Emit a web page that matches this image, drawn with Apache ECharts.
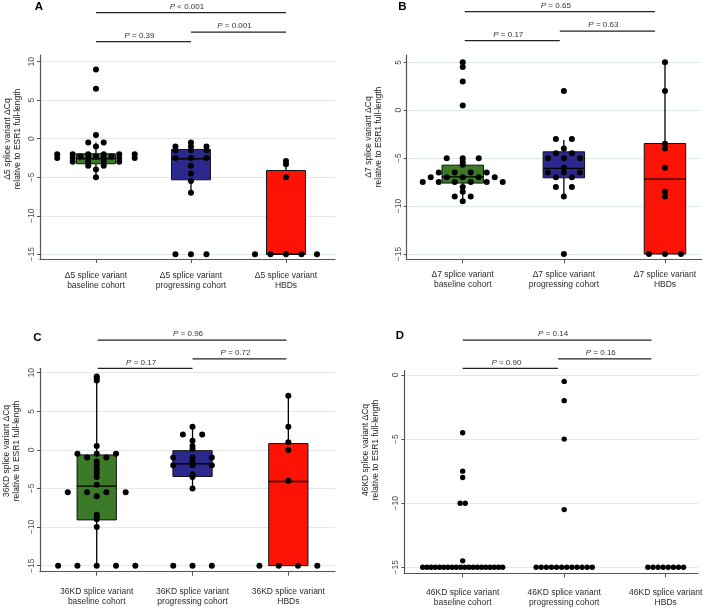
<!DOCTYPE html>
<html><head><meta charset="utf-8">
<script src="https://cdn.jsdelivr.net/npm/echarts@6/dist/echarts.min.js"></script>
<style>html,body{margin:0;padding:0;background:#fff}#c{width:709px;height:608px}</style>
</head><body><div id="c"></div>
<script>
// ---------- data ----------
const groupLabels = ['baseline cohort', 'progressing cohort', 'HBDs'];
const variants = ['Δ5', 'Δ7', '36KD', '46KD'];
const panelLetters = ['A', 'B', 'C', 'D'];

const yTicksA = [-15, -10, -5, 0, 5, 10];
const yTicksB = [-15, -10, -5, 0, 5];
const yTicksC = [-15, -10, -5, 0, 5, 10];
const yTicksD = [-15, -10, -5, 0];

const d5Baseline = [9, 6.5, 0.5, -0.5, -0.5, -1, -2, -2, -2, -2, -2, -2, -2.3, -2.3, -2.3, -2.5, -2.5, -2.5, -2.5, -2.5, -2.5, -3, -3, -3, -3, -3.5, -3.5, -4, -5];
const d5Progressing = [-0.5, -1, -1, -1, -1.5, -1.5, -1.5, -2.5, -2.5, -2.5, -3.5, -4.5, -5.5, -7, -15, -15, -15];
const d5HBD = [-2.9, -3.3, -5, -15, -15, -15, -15, -15];
const d5Box = [[-5, -3.25, -2.6, -1.95, -0.5], [-7, -5.33, -2.6, -1.39, -0.5], [-15, -15, -15, -4.12, -2.9]];
const d5Brackets = [[1, 3, 3], [2, 3, 1], [1, 2, 0]];
const d5P = ['< 0.001', '= 0.001', '= 0.39'];

const d7Baseline = [5, 4.5, 3, 0.5, -5, -5, -5, -5.4, -5.7, -6.5, -6.5, -6.5, -6.5, -7, -7, -7, -7, -7, -7.5, -7.5, -7.5, -7.5, -7.5, -7.5, -8, -8.5, -9, -9, -9.5];
const d7Progressing = [2, -3, -3, -4, -4.5, -4.5, -5, -5, -5, -6, -6.5, -6.5, -6.5, -7, -7, -8, -8, -9, -15];
const d7HBD = [5, 2, -3.5, -4, -6, -8.5, -9, -15, -15, -15];
const d7Box = [[-9.5, -7.6, -6.95, -5.73, -5], [-9, -7.05, -6.07, -4.34, -3.1], [-15, -15, -7.19, -3.47, 5]];
const d7Brackets = [[1.02, 2.9, 3], [1.96, 2.9, 1], [1.02, 1.96, 0]];
const d7P = ['= 0.65', '= 0.63', '= 0.17'];

const kd36Baseline = [9.5, 9.3, 9, 0.5, -0.5, -0.5, -0.5, -1, -1, -1.5, -2, -2.5, -3, -3.5, -4.5, -5.5, -5.5, -5.5, -5.5, -6, -8.4, -8.7, -9, -10, -15, -15, -15, -15, -15];
const kd36Progressing = [3, 2, 2, 1.2, 0.5, 0.1, -1, -1, -1, -1.5, -2, -2, -2, -3.2, -3.5, -5, -15, -15, -15];
const kd36HBD = [7, 3, 1, 0, -4, -15, -15, -15, -15];
const kd36Box = [[-15, -9.07, -4.7, -0.65, 9.5], [-5, -3.45, -1.8, -0.1, 3], [-15, -15, -4.1, 0.82, 7]];
const kd36Brackets = [[1.01, 2.98, 3], [2, 2.98, 1], [1.01, 2, 0]];
const kd36P = ['= 0.96', '= 0.72', '= 0.17'];

const kd46Baseline = [-4.5, -7.5, -8, -10, -10, -14.5, -15, -15, -15, -15, -15, -15, -15, -15, -15, -15, -15, -15, -15, -15, -15, -15, -15, -15, -15, -15];
const kd46Progressing = [-0.5, -2, -5, -10.5, -15, -15, -15, -15, -15, -15, -15, -15, -15, -15, -15, -15];
const kd46HBD = [-15, -15, -15, -15, -15, -15, -15, -15];
const kd46Box = [];
const kd46Brackets = [[1, 2.86, 3], [1.94, 2.86, 1], [1, 1.94, 0]];
const kd46P = ['= 0.14', '= 0.16', '= 0.90'];

const panels = [
  {variant: variants[0], yTicks: yTicksA, groups: [d5Baseline, d5Progressing, d5HBD], box: d5Box, brackets: d5Brackets, p: d5P},
  {variant: variants[1], yTicks: yTicksB, groups: [d7Baseline, d7Progressing, d7HBD], box: d7Box, brackets: d7Brackets, p: d7P},
  {variant: variants[2], yTicks: yTicksC, groups: [kd36Baseline, kd36Progressing, kd36HBD], box: kd36Box, brackets: kd36Brackets, p: kd36P},
  {variant: variants[3], yTicks: yTicksD, groups: [kd46Baseline, kd46Progressing, kd46HBD], box: kd46Box, brackets: kd46Brackets, p: kd46P}
];

// ---------- layout / style ----------
const FONT = '"Liberation Sans", Arial, Helvetica, sans-serif';
const boxColors = ['#3a7a29', '#2c298e', '#fc1306'];
const layout = [
  {grid: {left: 40, top: 55, width: 295, height: 204}, x: [0.411, 3.516], y: [-15.61, 10.87], step: 15.5, dot: 6, labelMargin: 12, bracket: {top: 3.05, height: 48.3}, title: [13, 139], letter: [38.8, 6.7]},
  {grid: {left: 406.7, top: 55, width: 295, height: 204.3}, x: [0.446, 3.363], y: [-15.55, 5.76], step: 16, dot: 6, labelMargin: 10, bracket: {top: 2.03, height: 48.35}, title: [374, 137], letter: [402.5, 6.7]},
  {grid: {left: 40, top: 368.3, width: 295, height: 203.4}, x: [0.408, 3.487], y: [-15.78, 10.57], step: 19.3, dot: 6, labelMargin: 15, bracket: {top: 330.6, height: 47.15}, title: [12, 451], letter: [37.5, 337.5]},
  {grid: {left: 404.3, top: 370.7, width: 293.7, height: 202.6}, x: [0.425, 3.318], y: [-15.47, 0.335], step: 5.1, dot: 5.4, labelMargin: 14, bracket: {top: 330.6, height: 47.15}, title: [371, 450], letter: [400, 336]}
];

// centred rows of dots (dot-plot style) for equal values
function rowLayout(values, cx, stepPx, pxPerX, maxHalfPx) {
  const counts = new Map();
  values.forEach(v => counts.set(v, (counts.get(v) || 0) + 1));
  const out = [];
  counts.forEach((n, v) => {
    let step = stepPx;
    if (n > 1 && (n - 1) * step / 2 > maxHalfPx) step = 2 * maxHalfPx / (n - 1);
    for (let i = 0; i < n; i++) out.push([cx + (i - (n - 1) / 2) * step / pxPerX, v]);
  });
  return out;
}

function boxRender(params, api) {
  const x = api.value(0);
  const hw = api.size([0.205, 0])[0];
  const cx = api.coord([x, 0])[0];
  const yLo = api.coord([x, api.value(1)])[1];
  const yQ1 = api.coord([x, api.value(2)])[1];
  const yMed = api.coord([x, api.value(3)])[1];
  const yQ3 = api.coord([x, api.value(4)])[1];
  const yHi = api.coord([x, api.value(5)])[1];
  const ls = {stroke: '#000', lineWidth: 1.3};
  return {type: 'group', children: [
    {type: 'line', shape: {x1: cx, y1: yHi, x2: cx, y2: yQ3}, style: ls},
    {type: 'line', shape: {x1: cx, y1: yQ1, x2: cx, y2: yLo}, style: ls},
    {type: 'rect', shape: {x: cx - hw, y: yQ3, width: 2 * hw, height: yQ1 - yQ3}, style: {fill: boxColors[params.dataIndex], stroke: '#111', lineWidth: 1}},
    {type: 'line', shape: {x1: cx - hw, y1: yMed, x2: cx + hw, y2: yMed}, style: {stroke: '#000', lineWidth: 1.4}}
  ]};
}

const grids = [], xAxes = [], yAxes = [], series = [], graphics = [];
panels.forEach((p, k) => {
  const L = layout[k];
  const gi = grids.length;
  grids.push({left: L.grid.left, top: L.grid.top, width: L.grid.width, height: L.grid.height, containLabel: false, outerBoundsMode: 'none'});
  xAxes.push({
    gridIndex: gi, type: 'value', min: L.x[0], max: L.x[1],
    axisLine: {show: true, onZero: false, lineStyle: {color: '#555', width: 1.2}},
    axisTick: {show: true, customValues: [1, 2, 3], length: 4, lineStyle: {color: '#555', width: 1}},
    axisLabel: {show: true, customValues: [1, 2, 3], formatter: v => p.variant + ' splice variant\n' + groupLabels[Math.round(v) - 1],
      fontSize: 8.5, lineHeight: 10, color: '#2b2b2b', fontFamily: FONT, margin: L.labelMargin},
    splitLine: {show: false}
  });
  yAxes.push({
    gridIndex: gi, type: 'value', min: L.y[0], max: L.y[1],
    axisLine: {show: true, onZero: false, lineStyle: {color: '#555', width: 1.2}},
    axisTick: {show: true, customValues: p.yTicks, length: 3, lineStyle: {color: '#555', width: 1}},
    axisLabel: {show: true, customValues: p.yTicks, rotate: 90, fontSize: 8.5, color: '#4d4d4d', fontFamily: FONT, margin: 4,
      formatter: v => String(v).replace('-', '\u2212')},
    splitLine: {show: true, lineStyle: {color: '#e1e9e9', width: 1}}
  });
  if (p.box.length) {
    series.push({type: 'custom', xAxisIndex: gi, yAxisIndex: gi, z: 2, silent: true,
      data: p.box.map((b, i) => [i + 1].concat(b)), renderItem: boxRender});
  }
  const pxPerX = L.grid.width / (L.x[1] - L.x[0]);
  const pts = [];
  p.groups.forEach((vals, i) => { rowLayout(vals, i + 1, L.step, pxPerX, 40).forEach(q => pts.push(q)); });
  series.push({type: 'scatter', xAxisIndex: gi, yAxisIndex: gi, z: 5, silent: true, symbol: 'circle',
    symbolSize: L.dot, itemStyle: {color: '#000', opacity: 1}, data: pts});

  const bi = grids.length;
  grids.push({left: L.grid.left, top: L.bracket.top, width: L.grid.width, height: L.bracket.height, containLabel: false, outerBoundsMode: 'none'});
  xAxes.push({gridIndex: bi, type: 'value', min: L.x[0], max: L.x[1], show: false});
  yAxes.push({gridIndex: bi, type: 'value', min: -1, max: 4, show: false});
  series.push({type: 'custom', xAxisIndex: bi, yAxisIndex: bi, clip: false, silent: true, data: p.brackets,
    renderItem: (params, api) => {
      const a = api.coord([api.value(0), api.value(2)]);
      const b = api.coord([api.value(1), api.value(2)]);
      return {type: 'group', children: [
        {type: 'line', shape: {x1: a[0], y1: a[1], x2: b[0], y2: b[1]}, style: {stroke: '#222', lineWidth: 1.3}},
        {type: 'text', x: (a[0] + b[0]) / 2 - 4, y: a[1] - 2,
          style: {text: '{i|P} ' + p.p[params.dataIndex], align: 'center', verticalAlign: 'bottom', fontSize: 8, fontFamily: FONT, fill: '#333',
            rich: {i: {fontStyle: 'italic', fontSize: 8, fontFamily: FONT, fill: '#333'}}}}
      ]};
    }});

  graphics.push({type: 'text', x: L.title[0], y: L.title[1], rotation: Math.PI / 2, silent: true,
    style: {text: p.variant + ' splice variant ΔCq\nrelative to ESR1 full-length', align: 'center', verticalAlign: 'middle',
      fontSize: 8.5, lineHeight: 10, fontFamily: FONT, fill: '#222'}});
  graphics.push({type: 'text', x: L.letter[0], y: L.letter[1], silent: true,
    style: {text: panelLetters[k], align: 'center', verticalAlign: 'middle', fontSize: 11.5, fontWeight: 'bold', fontFamily: FONT, fill: '#000'}});
});

const chart = echarts.init(document.getElementById('c'), null, {renderer: 'canvas'});
chart.setOption({
  animation: false,
  backgroundColor: '#fff',
  grid: grids, xAxis: xAxes, yAxis: yAxes, series: series, graphic: graphics
});
</script></body></html>
